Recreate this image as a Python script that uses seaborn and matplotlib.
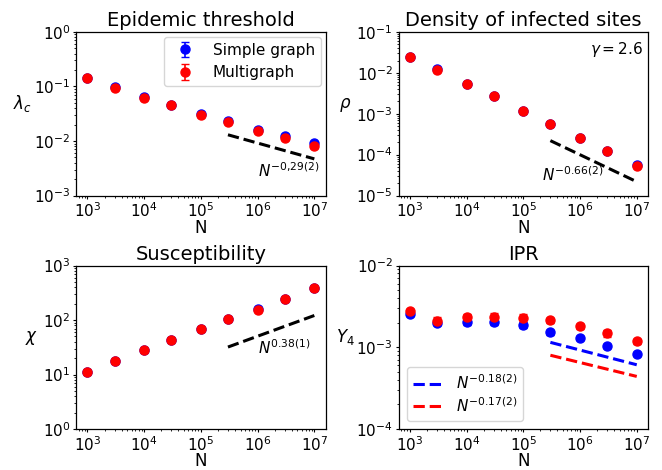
import numpy as np
import matplotlib
matplotlib.use("Agg")
import matplotlib.pyplot as plt
import seaborn as sns

# ---------------- data ----------------
N = [1e3, 3e3, 1e4, 3e4, 1e5, 3e5, 1e6, 3e6, 1e7]

lam_simple = [0.142, 0.096, 0.063, 0.046, 0.031, 0.0232, 0.0162, 0.0125, 0.0091]
lam_simple_err = [0.008, 0.005, 0.003, 0.002, 0.002, 0.0012, 0.0009, 0.0007, 0.0005]
lam_multi = [0.141, 0.095, 0.061, 0.045, 0.0295, 0.0222, 0.0152, 0.0113, 0.0081]
lam_multi_err = [0.008, 0.005, 0.003, 0.002, 0.002, 0.0012, 0.0009, 0.0007, 0.0005]

rho_simple = [0.0245, 0.0122, 0.0054, 0.0027, 0.00116, 0.00057, 0.00025, 0.000123, 0.000055]
rho_simple_err = [0.0012, 0.0006, 0.00025, 0.00012, 0.00005, 0.000025, 0.000012, 0.000006, 0.0000025]
rho_multi = [0.024, 0.012, 0.0053, 0.0027, 0.00115, 0.00056, 0.00025, 0.000122, 0.000054]
rho_multi_err = [0.0012, 0.0006, 0.00025, 0.00012, 0.00005, 0.000025, 0.000012, 0.000006, 0.0000025]

chi_simple = [11.0, 17.5, 28.5, 44.0, 69.0, 104.0, 157.0, 247.0, 390.0]
chi_simple_err = [0.6, 0.9, 1.5, 2.5, 3.5, 5.0, 8.0, 12.0, 20.0]
chi_multi = [11.0, 17.5, 28.0, 44.0, 68.0, 103.0, 156.0, 246.0, 388.0]
chi_multi_err = [0.6, 0.9, 1.5, 2.5, 3.5, 5.0, 8.0, 12.0, 20.0]

ipr_simple = [2.55e-3, 1.98e-3, 2.05e-3, 2.03e-3, 1.86e-3, 1.53e-3, 1.3e-3, 1.04e-3, 8.3e-4]
ipr_simple_err = [1.2e-4, 1.3e-4, 1.5e-4, 1.5e-4, 1.4e-4, 1.0e-4, 7e-5, 6e-5, 4e-5]
ipr_multi = [2.75e-3, 2.12e-3, 2.32e-3, 2.37e-3, 2.3e-3, 2.15e-3, 1.8e-3, 1.48e-3, 1.18e-3]
ipr_multi_err = [2.0e-4, 2.2e-4, 2.5e-4, 2.3e-4, 2.5e-4, 1.4e-4, 1.3e-4, 1.3e-4, 8e-5]

# fit lines: start point and exponent
fit_x = [3e5, 1e7]
lam_fit_y0, lam_fit_exp = 0.0130, -0.29
rho_fit_y0, rho_fit_exp = 2.2e-4, -0.66
chi_fit_y0, chi_fit_exp = 32.0, 0.38
ipr_s_fit_y0, ipr_s_fit_exp = 1.15e-3, -0.18
ipr_m_fit_y0, ipr_m_fit_exp = 8.0e-4, -0.17

titles = ["Epidemic threshold", "Density of infected sites", "Susceptibility", "IPR"]
ylabels = [r"$\lambda_c$", r"$\rho$", r"$\chi$", r"$Y_4$"]
ylims = [(1e-3, 1e0), (1e-5, 1e-1), (1e0, 1e3), (1e-4, 1e-2)]


def fit(y0, ex):
    x = np.array(fit_x)
    return x, y0 * (x / fit_x[0]) ** ex


plt.rcParams["font.family"] = ["DejaVu Sans"]
plt.rcParams["axes.linewidth"] = 0.9
fig, axes = plt.subplots(2, 2, figsize=(6.62, 4.70), dpi=100)
fig.subplots_adjust(left=0.115, right=0.979, bottom=0.087, top=0.932,
                    wspace=0.292, hspace=0.428)

data = [
    (lam_simple, lam_simple_err, lam_multi, lam_multi_err),
    (rho_simple, rho_simple_err, rho_multi, rho_multi_err),
    (chi_simple, chi_simple_err, chi_multi, chi_multi_err),
    (ipr_simple, ipr_simple_err, ipr_multi, ipr_multi_err),
]

DASH = (0, (3.7, 1.6))

for i, ax in enumerate(axes.flat):
    s, se, m, me = data[i]
    ax.errorbar(N, s, yerr=se, fmt="o", color="blue", ms=6.5, capsize=3,
                elinewidth=1.2, label="Simple graph")
    ax.errorbar(N, m, yerr=me, fmt="o", color="red", ms=6.5, capsize=3,
                elinewidth=1.2, label="Multigraph")
    ax.set_xscale("log")
    ax.set_yscale("log")
    ax.set_ylim(*ylims[i])
    ax.set_title(titles[i], fontsize=14, pad=4)
    ax.set_xlabel("N", fontsize=12, labelpad=-1)
    ax.set_ylabel(ylabels[i], fontsize=12, rotation=0, labelpad=8)
    ax.tick_params(which="major", labelsize=11, length=2.2, width=0.8, pad=2)
    ax.tick_params(which="minor", length=1.2, width=0.6)

# panel 1
ax = axes[0, 0]
fx, fy = fit(lam_fit_y0, lam_fit_exp)
sns.lineplot(x=fx, y=fy, ax=ax, color="black", lw=2.2, legend=False)
ax.lines[-1].set_linestyle(DASH)
ax.text(1e6, 1.9e-3, r"$N^{-0{,}29(2)}$", fontsize=11, va="bottom")
ax.legend(loc="upper right", fontsize=11, borderaxespad=0.3)

# panel 2
ax = axes[0, 1]
fx, fy = fit(rho_fit_y0, rho_fit_exp)
sns.lineplot(x=fx, y=fy, ax=ax, color="black", lw=2.2, legend=False)
ax.lines[-1].set_linestyle(DASH)
ax.text(2.1e5, 1.9e-5, r"$N^{-0.66(2)}$", fontsize=11, va="bottom")
ax.text(0.98, 0.95, r"$\gamma = 2.6$", transform=ax.transAxes, ha="right",
        va="top", fontsize=11)

# panel 3
ax = axes[1, 0]
fx, fy = fit(chi_fit_y0, chi_fit_exp)
sns.lineplot(x=fx, y=fy, ax=ax, color="black", lw=2.2, legend=False)
ax.lines[-1].set_linestyle(DASH)
ax.text(1e6, 21, r"$N^{0.38(1)}$", fontsize=11, va="bottom")

# panel 4
ax = axes[1, 1]
fx, fy = fit(ipr_s_fit_y0, ipr_s_fit_exp)
sns.lineplot(x=fx, y=fy, ax=ax, color="blue", lw=2.2, legend=False)
l1 = ax.lines[-1]
l1.set_linestyle(DASH)
fx, fy = fit(ipr_m_fit_y0, ipr_m_fit_exp)
sns.lineplot(x=fx, y=fy, ax=ax, color="red", lw=2.2, legend=False)
l2 = ax.lines[-1]
l2.set_linestyle(DASH)
ax.legend([l1, l2], [r"$N^{-0.18(2)}$", r"$N^{-0.17(2)}$"], loc="lower left",
          fontsize=11, borderaxespad=0.55, labelspacing=0.25)

fig.savefig("out.png", dpi=100)
